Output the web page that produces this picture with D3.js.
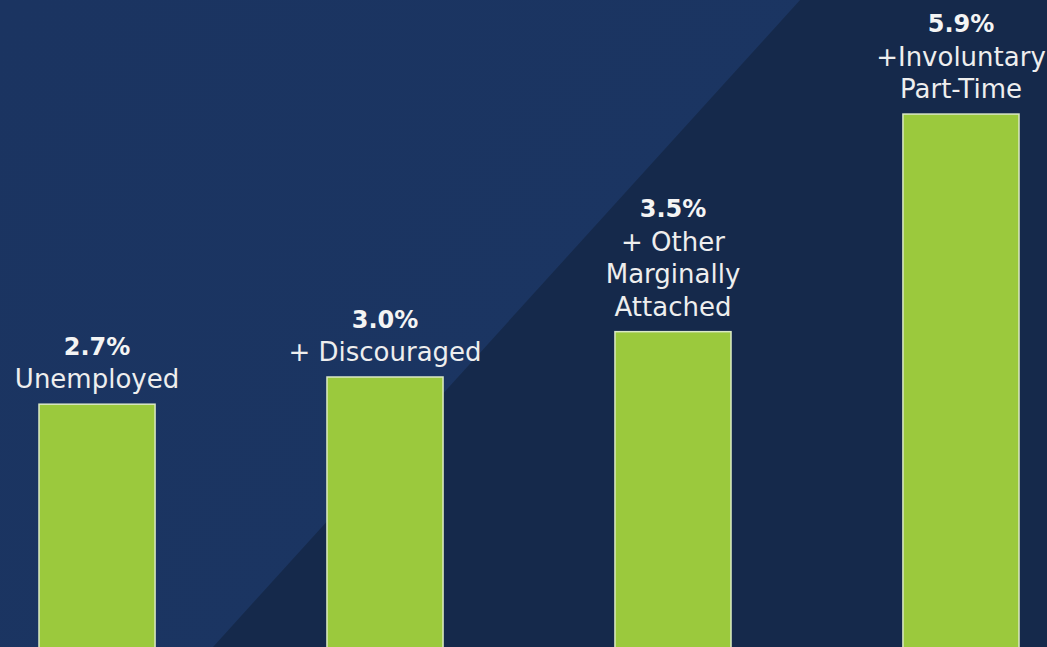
<!DOCTYPE html>
<html>
<head>
<meta charset="utf-8">
<script src="https://cdn.jsdelivr.net/npm/d3@7"></script>
<style>
  html, body { margin: 0; padding: 0; background: #15294b; overflow: hidden; }
  svg { display: block; }
</style>
</head>
<body>
<script>
//chart values
var categories = ["Unemployed", "Discouraged", "Marginal", "PartTime"];
var values = [2.7, 3.0, 3.5, 5.9];
var valueLabels = ["2.7%", "3.0%", "3.5%", "5.9%"];
var nameLines = [
    ["Unemployed"],
    ["+ Discouraged"],
    ["+ Other", "Marginally", "Attached"],
    ["+Involuntary", "Part-Time"]
];

window.onload = drawChart();

function drawChart(){

    var width = 1047,
        height = 647;

    var svg = d3.select("body")
        .append("svg")
        .attr("width", width)
        .attr("height", height);

    //dark background with lighter upper-left diagonal panel
    svg.append("rect")
        .attr("width", width)
        .attr("height", height)
        .attr("fill", "#15294b");

    var defs = svg.append("defs");
    var grad = defs.append("linearGradient")
        .attr("id", "panel")
        .attr("gradientUnits", "userSpaceOnUse")
        .attr("x1", 0).attr("y1", 0)
        .attr("x2", 560).attr("y2", 510);
    grad.append("stop").attr("offset", "0%").attr("stop-color", "#1b3461");
    grad.append("stop").attr("offset", "90%").attr("stop-color", "#1b3562");
    grad.append("stop").attr("offset", "100%").attr("stop-color", "#1e3a68");

    svg.append("polygon")
        .attr("points", "0,0 800,0 213,647 0,647")
        .attr("fill", "url(#panel)");

    //scales
    var x = d3.scaleBand()
        .domain(categories)
        .range([39, 1019])
        .paddingInner(0.597)
        .paddingOuter(0);

    var y = d3.scaleLinear()
        .domain([0, 6])
        .range([649, 105]);

    //bars
    svg.selectAll(".bar")
        .data(values)
        .enter()
        .append("rect")
        .attr("class", "bar")
        .attr("x", function(d, i){ return x(categories[i]); })
        .attr("y", function(d){ return y(d); })
        .attr("width", x.bandwidth())
        .attr("height", function(d){ return y(0) - y(d) + 10; })
        .attr("fill", "#9bc93d")
        .attr("stroke", "#dbe9c4")
        .attr("stroke-width", 1.5);

    //labels above bars
    var lineGap = 32.5;
    var labels = svg.selectAll(".label")
        .data(values)
        .enter()
        .append("g")
        .attr("class", "label")
        .attr("transform", function(d, i){
            return "translate(" + (x(categories[i]) + x.bandwidth() / 2) + "," + (y(d) - 16) + ")";
        });

    labels.each(function(d, i){
        var g = d3.select(this);
        var lines = nameLines[i];
        var n = lines.length;
        g.append("text")
            .attr("y", -n * lineGap - 1)
            .attr("text-anchor", "middle")
            .attr("font-family", "'DejaVu Sans', sans-serif")
            .attr("font-weight", "bold")
            .attr("font-size", 24)
            .attr("fill", "#f4f4f4")
            .text(valueLabels[i]);
        lines.forEach(function(t, j){
            g.append("text")
                .attr("y", -(n - 1 - j) * lineGap)
                .attr("text-anchor", "middle")
                .attr("font-family", "'DejaVu Sans', sans-serif")
                .attr("font-size", 26)
                .attr("fill", "#eeeeee")
                .text(t);
        });
    });
};
</script>
</body>
</html>
